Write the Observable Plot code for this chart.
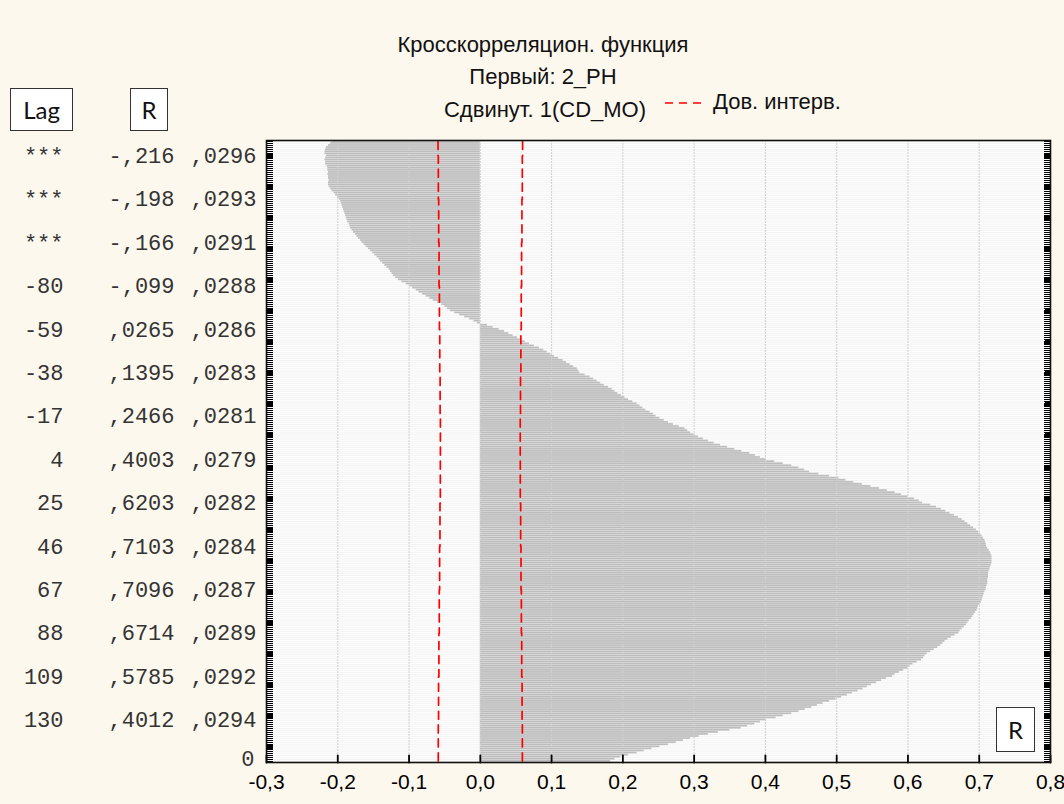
<!DOCTYPE html>
<html><head><meta charset="utf-8">
<script src="https://cdn.jsdelivr.net/npm/d3@7"></script>
<script src="https://cdn.jsdelivr.net/npm/@observablehq/plot@0.6"></script>
<style>
html,body{margin:0;padding:0;background:#fdf8ee;}
#wrap{position:relative;width:1064px;height:804px;overflow:hidden;background:#fdf8ee;}
#chart{position:absolute;left:0;top:0;}
.t{position:absolute;font-family:"Liberation Sans",Arial,sans-serif;font-size:22px;line-height:24px;color:#111;white-space:nowrap;}
.c{transform:translateX(-50%);}
.box{position:absolute;border:1px solid #333;background:#fff;font-family:Lato,"Open Sans",sans-serif;font-size:24px;color:#111;display:flex;align-items:center;justify-content:center;box-sizing:border-box;}
</style></head>
<body><div id="wrap">
<div id="chart"></div>
<div class="t c" style="left:543px;top:33px">Кросскорреляцион. функция</div>
<div class="t c" style="left:543px;top:65px">Первый: 2_PH</div>
<div class="t c" style="left:545px;top:98px">Сдвинут. 1(CD_MO)</div>
<svg style="position:absolute;left:664px;top:98px" width="44" height="10"><line x1="1" y1="5" x2="43" y2="5" stroke="red" stroke-width="1.6" stroke-dasharray="8,6"/></svg>
<div class="t" style="left:713px;top:90px">Дов. интерв.</div>
<div class="box" style="left:10px;top:88px;width:63px;height:43px">Lag</div>
<div class="box" style="left:130px;top:88px;width:38px;height:43px">R</div>
<div class="box" style="left:996px;top:707px;width:39px;height:45px">R</div>
</div>
<script>
// lags shown in the chart (categories)
const lags = d3.range(-150, 151);
// cross-correlation R for lags -150 .. 150
const rValues = [
-0.208,-0.210,-0.213,-0.216,-0.217,-0.218,-0.218,-0.216,-0.217,-0.218,
-0.217,-0.217,-0.215,-0.214,-0.214,-0.213,-0.214,-0.213,-0.213,-0.212,
-0.213,-0.213,-0.212,-0.210,-0.208,-0.205,-0.203,-0.200,-0.198,-0.196,
-0.195,-0.194,-0.193,-0.192,-0.191,-0.190,-0.189,-0.188,-0.187,-0.186,
-0.184,-0.183,-0.182,-0.180,-0.178,-0.175,-0.173,-0.171,-0.168,-0.166,
-0.163,-0.160,-0.157,-0.154,-0.151,-0.148,-0.145,-0.142,-0.140,-0.137,
-0.134,-0.131,-0.128,-0.126,-0.124,-0.122,-0.119,-0.115,-0.110,-0.104,
-0.099,-0.095,-0.090,-0.086,-0.081,-0.076,-0.071,-0.066,-0.060,-0.054,
-0.050,-0.046,-0.042,-0.036,-0.029,-0.022,-0.015,-0.009,-0.004,0.010,
0.018,0.0265,0.034,0.040,0.046,0.052,0.057,0.063,0.069,0.076,
0.083,0.089,0.094,0.099,0.104,0.110,0.116,0.121,0.126,0.131,
0.136,0.138,0.1395,0.147,0.154,0.159,0.164,0.169,0.174,0.180,
0.185,0.189,0.193,0.198,0.203,0.208,0.214,0.220,0.224,0.228,
0.232,0.238,0.243,0.2466,0.252,0.258,0.264,0.271,0.279,0.287,
0.291,0.295,0.300,0.306,0.313,0.320,0.328,0.337,0.347,0.357,
0.367,0.378,0.386,0.393,0.4003,0.413,0.425,0.437,0.447,0.455,
0.462,0.475,0.490,0.503,0.513,0.524,0.536,0.548,0.560,0.571,
0.582,0.591,0.600,0.609,0.616,0.6203,0.632,0.640,0.647,0.653,
0.659,0.665,0.671,0.676,0.680,0.684,0.688,0.692,0.696,0.699,
0.702,0.704,0.706,0.708,0.709,0.710,0.7103,0.712,0.714,0.716,
0.717,0.718,0.718,0.718,0.718,0.717,0.716,0.715,0.714,0.713,
0.713,0.713,0.712,0.712,0.712,0.711,0.710,0.7096,0.708,0.707,
0.706,0.705,0.704,0.703,0.701,0.699,0.698,0.697,0.695,0.693,
0.691,0.689,0.686,0.684,0.682,0.679,0.676,0.673,0.6714,0.666,
0.661,0.656,0.652,0.649,0.646,0.642,0.637,0.632,0.627,0.624,
0.622,0.619,0.613,0.607,0.603,0.600,0.594,0.588,0.582,0.5785,
0.570,0.563,0.556,0.549,0.543,0.537,0.530,0.522,0.515,0.507,
0.499,0.490,0.481,0.473,0.465,0.456,0.447,0.437,0.425,0.415,
0.4012,0.393,0.385,0.375,0.366,0.350,0.334,0.320,0.307,0.295,
0.285,0.275,0.264,0.252,0.241,0.230,0.220,0.208,0.197,0.189,
0.183
];
// table rows printed at the left
const rowLags   = [-143,-122,-101,-80,-59,-38,-17,4,25,46,67,88,109,130];
const lagLabels = ["***","***","***","-80","-59","-38","-17","4","25","46","67","88","109","130"];
const rLabels   = ["-,216","-,198","-,166","-,099",",0265",",1395",",2466",",4003",",6203",",7103",",7096",",6714",",5785",",4012"];
const seLabels  = [",0296",",0293",",0291",",0288",",0286",",0283",",0281",",0279",",0282",",0284",",0287",",0289",",0292",",0294"];
// standard errors for the confidence band (ends estimated)
const seLags   = [-150,-143,-122,-101,-80,-59,-38,-17,4,25,46,67,88,109,130,150];
const seValues = [0.0297,0.0296,0.0293,0.0291,0.0288,0.0286,0.0283,0.0281,0.0279,0.0282,0.0284,0.0287,0.0289,0.0292,0.0294,0.0296];
// x ticks
const xTicks = [-0.3,-0.2,-0.1,0,0.1,0.2,0.3,0.4,0.5,0.6,0.7,0.8];
const xTickLabels = ["-0,3","-0,2","-0,1","0,0","0,1","0,2","0,3","0,4","0,5","0,6","0,7","0,8"];

const bars = lags.map((lag, i) => ({lag, r: rValues[i]}));
const rows = rowLags.map((lag, i) => ({lag, lagLabel: lagLabels[i], rLabel: rLabels[i], seLabel: seLabels[i]}));
const ci = seLags.map((lag, i) => ({lag, se: seValues[i]}));

const mono = "Liberation Mono, Courier New, monospace";
const W = 1064, H = 804, mT = 140, mB = 42, mL = 266, mR = 14;

// short tick shape for vector marks (drawn from the anchor point)
const tickShape = {draw(context, l) { context.moveTo(0, 0); context.lineTo(0, -l); }};

const chart = Plot.plot({
  width: W, height: H,
  marginTop: mT, marginBottom: mB, marginLeft: mL, marginRight: mR,
  style: {background: "transparent", fontFamily: "Liberation Sans, Arial, sans-serif", color: "#111"},
  x: {domain: [-0.3, 0.8], axis: null},
  y: {type: "band", domain: lags, padding: 0, round: false, axis: null},
  marks: [
    Plot.frame({fill: "white", stroke: null}),
    Plot.ruleY(lags, {y: d => d, stroke: "#efefef", strokeWidth: 0.8}),
    Plot.barX(bars, {y: "lag", x: "r", fill: "#bdbdbd", insetBottom: 0.35}),
    Plot.gridX(xTicks, {stroke: "#d0d0d0", strokeOpacity: 1, strokeDasharray: "2,1"}),
    Plot.line(ci, {x: d => -2 * d.se, y: "lag", stroke: "#ff0000", strokeWidth: 1.7, strokeDasharray: "8,6", curve: "step"}),
    Plot.line(ci, {x: d => 2 * d.se, y: "lag", stroke: "#ff0000", strokeWidth: 1.7, strokeDasharray: "8,6", curve: "step"}),
    Plot.vector(lags, {y: d => d, frameAnchor: "left", rotate: 90, length: 6, anchor: "start", shape: tickShape, stroke: "#000", strokeWidth: 1.2, shapeRendering: "crispEdges"}),
    Plot.vector(lags, {y: d => d, frameAnchor: "right", rotate: -90, length: 6, anchor: "start", shape: tickShape, stroke: "#000", strokeWidth: 1.2, shapeRendering: "crispEdges"}),
    Plot.vector(xTicks, {x: d => d, frameAnchor: "bottom", rotate: 0, length: 7, anchor: "start", shape: tickShape, stroke: "#000", strokeWidth: 1.8}),
    Plot.axisX(xTicks, {anchor: "bottom", tickSize: 0, tickPadding: 12, tickFormat: d => xTickLabels[xTicks.indexOf(d)], fontSize: 21, fill: "#000", label: null}),
    Plot.frame({stroke: "#111", strokeWidth: 1.6}),
    Plot.text(rows, {y: "lag", text: "lagLabel", frameAnchor: "left", dx: -203, textAnchor: "end", fontFamily: mono, fontSize: 22, fill: "#333"}),
    Plot.text(rows, {y: "lag", text: "rLabel", frameAnchor: "left", dx: -92, textAnchor: "end", fontFamily: mono, fontSize: 22, fill: "#333"}),
    Plot.text(rows, {y: "lag", text: "seLabel", frameAnchor: "left", dx: -10, textAnchor: "end", fontFamily: mono, fontSize: 22, fill: "#333"}),
    Plot.text(["0"], {frameAnchor: "bottom-left", text: d => d, dx: -12, dy: 3, textAnchor: "end", fontFamily: mono, fontSize: 22, fill: "#333"})
  ]
});
document.getElementById("chart").appendChild(chart);
</script>
</body></html>
